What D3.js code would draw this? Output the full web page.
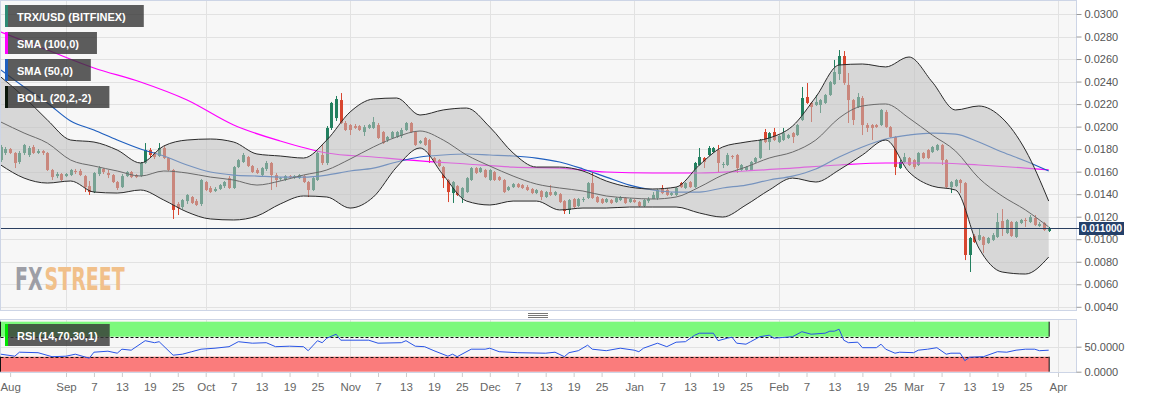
<!DOCTYPE html>
<html><head><meta charset="utf-8">
<script src="https://cdn.jsdelivr.net/npm/d3@7"></script>
<style>body{margin:0;background:#fff;}svg{display:block;font-family:"Liberation Sans",Arial,sans-serif;}</style>
</head><body>
<script>
// ---------------- DATA ----------------
const startDate = "2019-08-18";           // date of first candle (daily)
// [open, high, low, close]
const candles = [
[0.01703,0.01837,0.01686,0.01819],[0.01766,0.01819,0.01748,0.01801],[0.01801,0.01810,0.01757,0.01766],[0.01766,0.01774,0.01632,0.01677],[0.01686,0.01783,0.01668,0.01766],[0.01766,0.01846,0.01748,0.01837],[0.01748,0.01828,0.01730,0.01810],
[0.01819,0.01837,0.01757,0.01766],[0.01766,0.01801,0.01757,0.01783],[0.01783,0.01792,0.01748,0.01766],[0.01766,0.01774,0.01606,0.01615],[0.01615,0.01624,0.01526,0.01552],[0.01561,0.01597,0.01543,0.01579],[0.01579,0.01588,0.01517,0.01526],
[0.01561,0.01588,0.01552,0.01579],[0.01570,0.01624,0.01561,0.01615],[0.01606,0.01624,0.01579,0.01597],[0.01606,0.01624,0.01561,0.01570],[0.01561,0.01570,0.01419,0.01463],[0.01472,0.01517,0.01393,0.01419],[0.01419,0.01597,0.01410,0.01588],
[0.01579,0.01650,0.01561,0.01632],[0.01624,0.01632,0.01579,0.01597],[0.01588,0.01615,0.01543,0.01570],[0.01570,0.01579,0.01499,0.01508],[0.01508,0.01517,0.01437,0.01455],[0.01463,0.01579,0.01455,0.01561],[0.01561,0.01606,0.01552,0.01597],
[0.01597,0.01606,0.01543,0.01552],[0.01570,0.01579,0.01543,0.01552],[0.01561,0.01686,0.01552,0.01677],[0.01677,0.01854,0.01668,0.01792],[0.01792,0.01810,0.01730,0.01748],[0.01757,0.01774,0.01712,0.01730],[0.01739,0.01854,0.01730,0.01810],
[0.01810,0.01828,0.01712,0.01721],[0.01721,0.01730,0.01606,0.01615],[0.01615,0.01624,0.01180,0.01260],[0.01313,0.01330,0.01215,0.01277],[0.01286,0.01357,0.01268,0.01348],[0.01339,0.01401,0.01313,0.01393],[0.01375,0.01384,0.01313,0.01322],
[0.01339,0.01357,0.01295,0.01304],[0.01313,0.01535,0.01295,0.01526],[0.01508,0.01517,0.01428,0.01437],[0.01455,0.01472,0.01410,0.01419],[0.01428,0.01463,0.01419,0.01446],[0.01446,0.01490,0.01437,0.01481],[0.01472,0.01517,0.01455,0.01508],
[0.01543,0.01561,0.01446,0.01455],[0.01455,0.01650,0.01446,0.01641],[0.01641,0.01712,0.01632,0.01703],[0.01686,0.01766,0.01677,0.01748],[0.01730,0.01739,0.01641,0.01650],[0.01650,0.01659,0.01588,0.01597],[0.01615,0.01632,0.01579,0.01588],
[0.01570,0.01641,0.01561,0.01632],[0.01624,0.01695,0.01606,0.01677],[0.01677,0.01686,0.01437,0.01570],[0.01570,0.01588,0.01463,0.01526],[0.01535,0.01552,0.01517,0.01543],[0.01526,0.01570,0.01517,0.01561],[0.01561,0.01570,0.01543,0.01552],
[0.01552,0.01570,0.01535,0.01561],[0.01543,0.01579,0.01535,0.01570],[0.01561,0.01570,0.01499,0.01508],[0.01508,0.01517,0.01375,0.01437],[0.01437,0.01552,0.01428,0.01543],[0.01526,0.01783,0.01517,0.01766],[0.01748,0.01837,0.01659,0.01677],
[0.01677,0.02005,0.01659,0.01988],[0.01988,0.02219,0.01970,0.02210],[0.02076,0.02272,0.02050,0.02245],[0.02236,0.02298,0.02023,0.02032],[0.02032,0.02050,0.01961,0.01970],[0.02014,0.02023,0.01925,0.01970],[0.02005,0.02023,0.01979,0.01988],
[0.02005,0.02014,0.01961,0.01970],[0.01952,0.02014,0.01917,0.01996],[0.01988,0.02023,0.01979,0.02014],[0.01988,0.02085,0.01979,0.02041],[0.02014,0.02032,0.01890,0.01899],[0.01952,0.01961,0.01846,0.01854],[0.01881,0.01917,0.01863,0.01908],
[0.01899,0.01961,0.01890,0.01952],[0.01908,0.01961,0.01899,0.01952],[0.01917,0.01988,0.01899,0.01970],[0.01970,0.02041,0.01961,0.02032],[0.02032,0.02041,0.01943,0.01952],[0.01952,0.01961,0.01828,0.01837],[0.01854,0.01881,0.01846,0.01872],
[0.01899,0.01908,0.01828,0.01837],[0.01881,0.01890,0.01677,0.01748],[0.01721,0.01730,0.01677,0.01686],[0.01703,0.01712,0.01641,0.01650],[0.01641,0.01650,0.01455,0.01543],[0.01526,0.01535,0.01330,0.01419],[0.01410,0.01517,0.01322,0.01508],
[0.01472,0.01481,0.01384,0.01393],[0.01366,0.01463,0.01322,0.01455],[0.01419,0.01552,0.01410,0.01543],[0.01526,0.01641,0.01517,0.01632],[0.01632,0.01641,0.01579,0.01588],[0.01597,0.01641,0.01588,0.01632],[0.01615,0.01624,0.01543,0.01552],
[0.01526,0.01624,0.01517,0.01615],[0.01597,0.01606,0.01517,0.01526],[0.01552,0.01561,0.01517,0.01526],[0.01526,0.01535,0.01410,0.01419],[0.01437,0.01472,0.01428,0.01463],[0.01463,0.01499,0.01455,0.01490],[0.01490,0.01499,0.01455,0.01463],
[0.01481,0.01490,0.01446,0.01455],[0.01463,0.01481,0.01428,0.01437],[0.01446,0.01455,0.01401,0.01410],[0.01410,0.01446,0.01401,0.01437],[0.01428,0.01437,0.01348,0.01375],[0.01375,0.01428,0.01366,0.01419],[0.01419,0.01481,0.01384,0.01393],
[0.01393,0.01428,0.01384,0.01419],[0.01401,0.01410,0.01322,0.01330],[0.01339,0.01348,0.01224,0.01251],[0.01260,0.01357,0.01224,0.01348],[0.01357,0.01366,0.01277,0.01286],[0.01295,0.01366,0.01286,0.01357],[0.01348,0.01375,0.01330,0.01357],
[0.01366,0.01508,0.01357,0.01499],[0.01499,0.01597,0.01357,0.01366],[0.01375,0.01384,0.01322,0.01330],[0.01357,0.01366,0.01313,0.01322],[0.01330,0.01366,0.01322,0.01357],[0.01348,0.01357,0.01313,0.01322],[0.01330,0.01375,0.01322,0.01366],
[0.01348,0.01384,0.01339,0.01375],[0.01366,0.01375,0.01313,0.01322],[0.01330,0.01366,0.01322,0.01357],[0.01348,0.01357,0.01322,0.01330],[0.01330,0.01339,0.01286,0.01295],[0.01295,0.01357,0.01286,0.01348],[0.01339,0.01375,0.01322,0.01357],
[0.01357,0.01419,0.01357,0.01393],[0.01366,0.01446,0.01348,0.01437],[0.01455,0.01481,0.01401,0.01410],[0.01437,0.01455,0.01384,0.01393],[0.01393,0.01419,0.01384,0.01410],[0.01393,0.01463,0.01384,0.01455],[0.01499,0.01508,0.01455,0.01463],
[0.01455,0.01508,0.01446,0.01499],[0.01508,0.01517,0.01455,0.01463],[0.01463,0.01686,0.01455,0.01677],[0.01659,0.01810,0.01650,0.01730],[0.01721,0.01730,0.01632,0.01686],[0.01748,0.01828,0.01739,0.01810],[0.01774,0.01819,0.01766,0.01810],
[0.01792,0.01837,0.01597,0.01677],[0.01659,0.01686,0.01632,0.01668],[0.01659,0.01766,0.01650,0.01748],[0.01739,0.01748,0.01712,0.01730],[0.01748,0.01757,0.01588,0.01632],[0.01615,0.01668,0.01606,0.01659],[0.01615,0.01650,0.01606,0.01641],
[0.01615,0.01695,0.01606,0.01686],[0.01686,0.01730,0.01677,0.01721],[0.01721,0.01890,0.01712,0.01881],[0.01952,0.01979,0.01854,0.01863],[0.01863,0.01952,0.01792,0.01943],[0.01952,0.01988,0.01872,0.01881],[0.01863,0.01925,0.01854,0.01917],
[0.01881,0.01988,0.01872,0.01943],[0.01899,0.01934,0.01890,0.01925],[0.01943,0.01952,0.01854,0.01908],[0.01925,0.02023,0.01917,0.02014],[0.02059,0.02352,0.02050,0.02254],[0.02263,0.02387,0.02201,0.02210],[0.02210,0.02219,0.02041,0.02174],
[0.02192,0.02281,0.02183,0.02219],[0.02192,0.02245,0.02121,0.02236],[0.02210,0.02290,0.02201,0.02281],[0.02281,0.02405,0.02272,0.02396],[0.02378,0.02592,0.02370,0.02485],[0.02467,0.02680,0.02414,0.02627],[0.02627,0.02671,0.02370,0.02387],
[0.02370,0.02476,0.02032,0.02236],[0.02236,0.02245,0.02014,0.02059],[0.02174,0.02298,0.02165,0.02263],[0.02254,0.02272,0.01925,0.02014],[0.02014,0.02032,0.01952,0.01988],[0.02014,0.02023,0.01881,0.01988],[0.02014,0.02023,0.01988,0.01996],
[0.02014,0.02156,0.02005,0.02148],[0.02130,0.02148,0.01988,0.01996],[0.01996,0.02005,0.01899,0.01908],[0.01908,0.01917,0.01570,0.01641],[0.01632,0.01703,0.01624,0.01686],[0.01686,0.01766,0.01677,0.01730],[0.01721,0.01730,0.01650,0.01659],
[0.01703,0.01712,0.01624,0.01641],[0.01659,0.01774,0.01650,0.01766],[0.01766,0.01774,0.01712,0.01721],[0.01792,0.01801,0.01712,0.01721],[0.01774,0.01828,0.01766,0.01819],[0.01792,0.01846,0.01783,0.01837],[0.01837,0.01846,0.01659,0.01703],
[0.01703,0.01712,0.01455,0.01463],[0.01463,0.01517,0.01410,0.01508],[0.01472,0.01535,0.01463,0.01526],[0.01526,0.01535,0.01410,0.01499],[0.01499,0.01508,0.00815,0.00860],[0.00860,0.01020,0.00709,0.01011],[0.01029,0.01046,0.00966,0.00975],
[0.00993,0.01100,0.00984,0.01037],[0.01020,0.01029,0.00878,0.00949],[0.00966,0.01020,0.00958,0.01011],[0.00993,0.01055,0.00984,0.01037],[0.01020,0.01233,0.01011,0.01153],[0.01162,0.01268,0.01029,0.01100],[0.01055,0.01180,0.01046,0.01171],
[0.01153,0.01162,0.01020,0.01029],[0.01020,0.01162,0.01011,0.01153],[0.01144,0.01180,0.01135,0.01171],[0.01171,0.01189,0.01109,0.01162],[0.01153,0.01215,0.01144,0.01197],[0.01189,0.01215,0.01117,0.01126],[0.01117,0.01153,0.01109,0.01135],
[0.01144,0.01153,0.01073,0.01082],[0.01073,0.01109,0.01064,0.01100]
];
// indicator samples (day index from startDate)
const bandDays = [0,5,10,15,20,25,30,35,40,45,50,55,60,65,70,75,80,85,90,95,100,105,110,115,120,125,130,135,140,145,150,155,160,165,170,175,180,185,190,195,200,205,210,215,220,225];
const bollUpper = [0.02441,0.02263,0.02059,0.01881,0.01863,0.01792,0.01677,0.01828,0.01881,0.01890,
0.01863,0.01757,0.01739,0.01721,0.01881,0.02130,0.02245,0.02254,0.02103,0.02148,
0.02165,0.01996,0.01766,0.01641,0.01641,0.01606,0.01517,0.01463,0.01446,0.01463,
0.01659,0.01819,0.01863,0.01899,0.02005,0.02263,0.02547,0.02556,0.02530,0.02618,
0.02396,0.02148,0.02183,0.02076,0.01792,0.01339];
const bollMiddle = [0.02041,0.01943,0.01854,0.01703,0.01650,0.01606,0.01561,0.01606,0.01588,0.01552,
0.01526,0.01481,0.01517,0.01570,0.01615,0.01712,0.01819,0.01908,0.01961,0.01881,
0.01748,0.01650,0.01561,0.01490,0.01455,0.01428,0.01384,0.01366,0.01357,0.01375,
0.01463,0.01570,0.01641,0.01721,0.01774,0.01881,0.02076,0.02183,0.02201,0.02076,
0.01925,0.01783,0.01543,0.01384,0.01260,0.01109];
const bollLower = [0.01659,0.01543,0.01499,0.01517,0.01419,0.01410,0.01437,0.01348,0.01242,0.01180,
0.01171,0.01206,0.01313,0.01384,0.01375,0.01277,0.01375,0.01641,0.01810,0.01570,
0.01339,0.01304,0.01339,0.01339,0.01260,0.01277,0.01277,0.01286,0.01286,0.01286,
0.01233,0.01197,0.01304,0.01437,0.01543,0.01508,0.01615,0.01748,0.01881,0.01597,
0.01472,0.01437,0.00922,0.00709,0.00691,0.00842];
const sma50 = [0.02503,0.02352,0.02210,0.02050,0.01970,0.01881,0.01801,0.01739,0.01659,0.01597,
0.01570,0.01561,0.01552,0.01552,0.01570,0.01606,0.01632,0.01686,0.01730,0.01748,
0.01757,0.01748,0.01739,0.01721,0.01686,0.01624,0.01552,0.01481,0.01437,0.01419,
0.01419,0.01455,0.01481,0.01526,0.01561,0.01624,0.01730,0.01819,0.01890,0.01925,
0.01943,0.01934,0.01863,0.01774,0.01695,0.01606];
const sma100Days = [0,10,20,30,40,50,60,70,80,90,100,110,120,130,140,150,160,170,180,190,200,210,220,225];
const sma100 = [0.02840,0.02680,0.02521,0.02396,0.02236,0.02014,0.01872,0.01766,0.01730,0.01695,0.01668,0.01641,0.01632,0.01597,0.01588,0.01588,0.01606,0.01632,0.01659,0.01677,0.01677,0.01659,0.01632,0.01615];
const rsiDays = [0,3,4,8,11,14,16,19,20,23,25,26,28,31,33,34,37,39,41,43,46,49,51,54,57,59,62,65,66,68,69,70,72,73,79,81,86,87,89,91,93,96,97,98,101,104,105,107,111,117,119,121,122,124,126,127,130,133,136,137,138,141,143,145,147,149,150,153,154,156,157,158,160,161,163,165,166,170,172,174,177,178,179,180,181,182,184,185,188,189,190,192,193,196,197,199,201,203,204,206,207,208,211,214,216,218,220,222,223,225];
const rsiValues = [35,31,39,38,30,31,35,27,39,41,37,45,43,62,58,60,33,35,40,45,47,50,60,57,58,50,51,50,42,62,58,67,75,63,63,57,58,62,51,50,42,31,35,30,45,45,47,40,38,37,39,30,38,42,53,45,42,47,43,40,47,57,50,59,60,73,77,77,62,67,69,57,55,60,70,73,67,70,80,75,77,81,81,85,63,58,59,48,48,55,45,37,39,38,43,45,48,35,37,37,22,29,30,40,39,43,45,45,42,43];
const rsiLevels = [70, 30];
const priceTicks = [0.030,0.028,0.026,0.024,0.022,0.020,0.018,0.016,0.014,0.012,0.010,0.008,0.006,0.004];
const rsiTicks = [0, 50];
const lastPrice = 0.011;
const xTickDates = ["2019-08-20","2019-09-01","2019-09-07","2019-09-13","2019-09-19","2019-09-25","2019-10-01","2019-10-07","2019-10-13","2019-10-19","2019-10-25","2019-11-01","2019-11-07","2019-11-13","2019-11-19","2019-11-25","2019-12-01","2019-12-07","2019-12-13","2019-12-19","2019-12-25","2020-01-01","2020-01-07","2020-01-13","2020-01-19","2020-01-25","2020-02-01","2020-02-07","2020-02-13","2020-02-19","2020-02-25","2020-03-01","2020-03-07","2020-03-13","2020-03-19","2020-03-25","2020-04-01"];
const xTickLabels = ["Aug","Sep","7","13","19","25","Oct","7","13","19","25","Nov","7","13","19","25","Dec","7","13","19","25","Jan","7","13","19","25","Feb","7","13","19","25","Mar","7","13","19","25","Apr"];
const monthLines = ["2019-09-01","2019-10-01","2019-11-01","2019-12-01","2020-01-01","2020-02-01","2020-03-01","2020-04-01"];
const legendLabels = ["TRX/USD (BITFINEX)","SMA (100,0)","SMA (50,0)","BOLL (20,2,-2)"];
const legendColors = ["#2e8a74","#ff00ff","#1f5fbf","#0a160a"];
const rsiLabel = "RSI (14,70,30,1)";

// ---------------- DRAW ----------------
const W = 1153, H = 399;
const svg = d3.select("body").append("svg").attr("width", W).attr("height", H);
const parse = d3.utcParse("%Y-%m-%d");
const day0 = parse(startDate);
const dayDate = i => d3.utcDay.offset(day0, i);
const x = d3.scaleUtc().domain([parse("2019-09-01"), parse("2020-04-01")]).range([66, 1058]);
const y = d3.scaleLinear().domain([0.004, 0.030]).range([306.8, 14]);
const yr = d3.scaleLinear().domain([0, 100]).range([371.7, 321.7]);
const PR = 1076;
const xi = i => x(dayDate(i));

// panels
svg.append("rect").attr("x", 0.5).attr("y", 0.5).attr("width", PR).attr("height", 310)
  .attr("fill", "#f7f7f7").attr("stroke", "#cdd5e6");
svg.append("rect").attr("x", 0.5).attr("y", 319.5).attr("width", PR).attr("height", 53)
  .attr("fill", "#f7f7f7").attr("stroke", "#cdd5e6");

// grid
const grid = svg.append("g").attr("stroke", "#e2e2e2").attr("stroke-width", 1);
priceTicks.forEach(v => {
  const yy = Math.round(y(v)) + 0.5;
  grid.append("line").attr("x1", 1).attr("x2", PR).attr("y1", yy).attr("y2", yy);
});
monthLines.forEach(d => {
  const xx = Math.round(x(parse(d))) + 0.5;
  grid.append("line").attr("x1", xx).attr("x2", xx).attr("y1", 1).attr("y2", 310);
  grid.append("line").attr("x1", xx).attr("x2", xx).attr("y1", 320).attr("y2", 372);
});
svg.append("line").attr("x1", 1).attr("x2", PR).attr("y1", Math.round(yr(50)) + 0.5).attr("y2", Math.round(yr(50)) + 0.5)
  .attr("stroke", "#e2e2e2");

// watermark: natural-width condensed words, stretched vertically
const wmFont = "'Liberation Sans Narrow','DejaVu Sans Condensed','Liberation Sans',sans-serif";
const wmG = svg.append("g").attr("transform", "translate(0,290) scale(1,1.5)");
const fxT = wmG.append("text").attr("x", 15).attr("y", 0).attr("font-family", wmFont).attr("font-weight", "bold")
  .attr("font-size", 24).attr("fill", "#9d9ea6").text("FX");
const stT = wmG.append("text").attr("font-family", wmFont).attr("font-weight", "bold")
  .attr("font-size", 24).attr("fill", "#f1c08a").text("STREET");
{
  const sw = stT.node().getComputedTextLength();
  const fs = 24 * 80 / sw;
  fxT.attr("font-size", fs); stT.attr("font-size", fs);
  const fw = fxT.node().getComputedTextLength();
  stT.attr("x", 15 + fw + 2).attr("y", 0);
}

// clip
const defs = svg.append("defs");
defs.append("clipPath").attr("id", "mainClip").append("rect").attr("x", 1).attr("y", 1).attr("width", PR - 1).attr("height", 309);
const main = svg.append("g").attr("clip-path", "url(#mainClip)");

// candles
const up = "#22805f", dn = "#d8462f";
const cg = main.append("g");
candles.forEach((c, i) => {
  const [o, h, l, cl] = c;
  const cx = Math.round(xi(i));
  const col = cl >= o ? up : dn;
  cg.append("line").attr("x1", cx + 0.5).attr("x2", cx + 0.5).attr("y1", y(h)).attr("y2", y(l))
    .attr("stroke", col).attr("stroke-width", 1);
  const top = y(Math.max(o, cl)), bot = y(Math.min(o, cl));
  cg.append("rect").attr("x", cx - 1).attr("width", 3).attr("y", top).attr("height", Math.max(1, bot - top))
    .attr("fill", col);
});

// SMA lines
const lineGen = (days, vals) => d3.line().curve(d3.curveMonotoneX)
  .x((d, k) => xi(days[k])).y(d => y(d))(vals);
main.append("path").attr("d", lineGen(sma100Days, sma100)).attr("fill", "none").attr("stroke", "#ff00ff").attr("stroke-width", 1.2);
main.append("path").attr("d", lineGen(bandDays, sma50)).attr("fill", "none").attr("stroke", "#1f5fbf").attr("stroke-width", 1.2);

// Bollinger
const area = d3.area().curve(d3.curveMonotoneX)
  .x((d, k) => xi(bandDays[k])).y0((d, k) => y(bollLower[k])).y1((d, k) => y(bollUpper[k]));
main.append("path").attr("d", area(bandDays)).attr("fill", "rgb(190,190,190)").attr("fill-opacity", 0.55);
main.append("path").attr("d", lineGen(bandDays, bollMiddle)).attr("fill", "none").attr("stroke", "#6a6a6a").attr("stroke-width", 1);
main.append("path").attr("d", lineGen(bandDays, bollUpper)).attr("fill", "none").attr("stroke", "#2a2a2a").attr("stroke-width", 1);
main.append("path").attr("d", lineGen(bandDays, bollLower)).attr("fill", "none").attr("stroke", "#2a2a2a").attr("stroke-width", 1);

// last price line
const ly = Math.round(y(lastPrice)) + 0.5;
svg.append("line").attr("x1", 1).attr("x2", 1080).attr("y1", ly).attr("y2", ly).attr("stroke", "#2a3f60").attr("stroke-width", 1);

// price axis
const yAxis = d3.axisRight(y).tickValues(priceTicks).tickFormat(d3.format(".4f")).tickSize(5).tickPadding(3);
const ya = svg.append("g").attr("transform", `translate(${PR + 0.5},0)`).call(yAxis);
ya.select(".domain").remove();
ya.selectAll(".tick line").attr("stroke", "#999");
ya.selectAll("text").attr("fill", "#555").attr("font-size", 11).attr("font-family", "'Liberation Sans',Arial,sans-serif");

// price tag
svg.append("rect").attr("x", 1079).attr("y", ly - 6.5).attr("width", 45).attr("height", 13).attr("fill", "#24406a");
svg.append("text").attr("x", 1101.5).attr("y", ly + 3.5).attr("text-anchor", "middle").attr("fill", "#fff")
  .attr("font-weight", "bold").attr("font-size", 10).text(d3.format(".6f")(lastPrice));

// divider grip
[313.5, 315.5, 317.5].forEach(gy => svg.append("line").attr("x1", 528).attr("x2", 548).attr("y1", gy).attr("y2", gy).attr("stroke", "#777"));

// RSI panel
const lastX = xi(candles.length - 1);
svg.append("rect").attr("x", 0.5).attr("y", yr(100)).attr("width", lastX).attr("height", yr(70) - yr(100)).attr("fill", "#7cf97c");
svg.append("rect").attr("x", 0.5).attr("y", yr(30)).attr("width", lastX).attr("height", yr(0) - yr(30)).attr("fill", "#fa7c7c");
rsiLevels.forEach(l => svg.append("line").attr("x1", 0.5).attr("x2", lastX + 0.5).attr("y1", Math.round(yr(l)) + 0.5).attr("y2", Math.round(yr(l)) + 0.5)
  .attr("stroke", "#111").attr("stroke-dasharray", "3,2"));
[[100, 70], [30, 0]].forEach(([a, b]) => {
  [0.5, lastX + 0.5].forEach(xx => svg.append("line").attr("x1", xx).attr("x2", xx).attr("y1", yr(a)).attr("y2", yr(b)).attr("stroke", "#111"));
});
const rsiLine = d3.line().x((d, k) => xi(rsiDays[k])).y(d => yr(d));
svg.append("path").attr("d", rsiLine(rsiValues)).attr("fill", "none").attr("stroke", "#2a55e6").attr("stroke-width", 1);

const rAxis = d3.axisRight(yr).tickValues(rsiTicks).tickFormat(d3.format(".4f")).tickSize(5).tickPadding(3);
const ra = svg.append("g").attr("transform", `translate(${PR + 0.5},0)`).call(rAxis);
ra.select(".domain").remove();
ra.selectAll(".tick line").attr("stroke", "#999");
ra.selectAll("text").attr("fill", "#555").attr("font-size", 11).attr("font-family", "'Liberation Sans',Arial,sans-serif");

// x axis
const xAxis = d3.axisBottom(x).tickValues(xTickDates.map(parse)).tickFormat((d, i) => xTickLabels[i]).tickSize(4).tickPadding(6);
const xa = svg.append("g").attr("transform", "translate(0,373)").call(xAxis);
xa.select(".domain").remove();
xa.selectAll(".tick line").attr("stroke", "#ccc");
xa.selectAll("text").attr("fill", "#666").attr("font-size", 11.5).attr("font-family", "'Liberation Sans',Arial,sans-serif");

// legends
const lg = svg.append("g");
legendLabels.forEach((t, k) => {
  const by = 5 + k * 27;
  const g = lg.append("g");
  const txt = g.append("text").attr("x", 17).attr("y", by + 15.5).attr("fill", "#fff").attr("font-weight", "bold").attr("font-size", 11).text(t);
  const w = txt.node().getComputedTextLength();
  g.insert("rect", "text").attr("x", 5).attr("y", by).attr("width", w + 30).attr("height", 22).attr("fill", "rgb(53,53,53)").attr("fill-opacity", 0.8);
  g.insert("rect", "text").attr("x", 5).attr("y", by).attr("width", 3).attr("height", 22).attr("fill", legendColors[k]);
});
{
  const g = svg.append("g");
  const txt = g.append("text").attr("x", 17).attr("y", 339.5).attr("fill", "#fff").attr("font-weight", "bold").attr("font-size", 11).text(rsiLabel);
  const w = txt.node().getComputedTextLength();
  g.insert("rect", "text").attr("x", 5).attr("y", 324).attr("width", w + 24).attr("height", 22).attr("fill", "rgb(53,53,53)").attr("fill-opacity", 0.8);
  g.insert("rect", "text").attr("x", 5).attr("y", 324).attr("width", 3).attr("height", 22).attr("fill", "#00e600");
}
</script>
</body></html>
